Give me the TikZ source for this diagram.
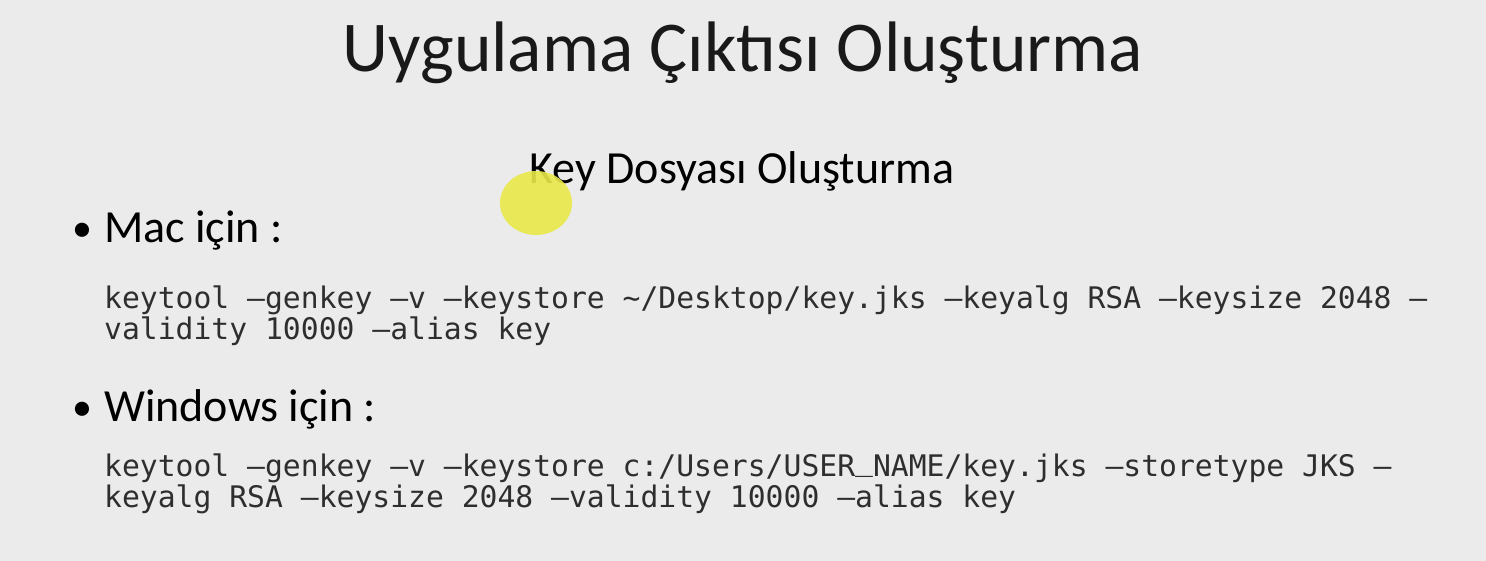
\documentclass[tikz,border=0pt]{standalone}
\usepackage{fontspec}
\usepackage{xcolor}
\setmainfont{Carlito}
\newfontfamily\codefont{DejaVu Sans Mono}
\definecolor{slide-bg}{HTML}{EBEBEB}
\definecolor{pointer}{HTML}{E9E84A}
\definecolor{code-gray}{HTML}{2E2E2E}
\newcommand{\codeunder}{\raisebox{0.2em}{\_}}
\tikzset{
    slide-title/.style = {anchor=base, inner sep=0pt, text=black!90, font=\fontsize{71.5bp}{80bp}\selectfont},
    sub-title/.style = {anchor=base, inner sep=0pt, text=black, font=\fontsize{46bp}{50bp}\selectfont},
    bullet-dot/.style = {anchor=base west, inner sep=0pt, text=black, font=\fontsize{40bp}{44bp}\selectfont},
    bullet-text/.style = {anchor=base west, inner sep=0pt, text=black, font=\fontsize{46bp}{50bp}\selectfont},
    code-line/.style = {anchor=base west, inner sep=0pt, text=code-gray, font=\codefont\fontsize{29.7bp}{32bp}\selectfont},
}

\begin{document}
\begin{tikzpicture}[x=1bp, y=-1bp]
\fill[slide-bg] (0,0) rectangle (1486,561);
\useasboundingbox (0,0) rectangle (1486,561);
\node[slide-title] (title) at (743,72) {Uygulama Çıktısı Oluşturma};
\node[sub-title] (subtitle) at (742,184) {Key Dosyası Oluşturma};
\node[bullet-dot] (mac-dot) at (72,242) {•};
\node[bullet-text] (mac) at (104,243) {Mac için :};
\node[code-line] (mac-cmd-a) at (104,308) {keytool –genkey –v –keystore \textasciitilde/Desktop/key.jks –keyalg RSA –keysize 2048 –};
\node[code-line] (mac-cmd-b) at (104,339) {validity 10000 –alias key};
\node[bullet-dot] (win-dot) at (72,420) {•};
\node[bullet-text] (win) at (104,421) {Windows için :};
\node[code-line] (win-cmd-a) at (104,476) {keytool –genkey –v –keystore c:/Users/USER\codeunder NAME/key.jks –storetype JKS –};
\node[code-line] (win-cmd-b) at (104,507) {keyalg RSA –keysize 2048 –validity 10000 –alias key};
% mouse pointer highlight
\fill[pointer, fill opacity=0.9] (536,203) ellipse [x radius=36, y radius=32];
\end{tikzpicture}
\end{document}
